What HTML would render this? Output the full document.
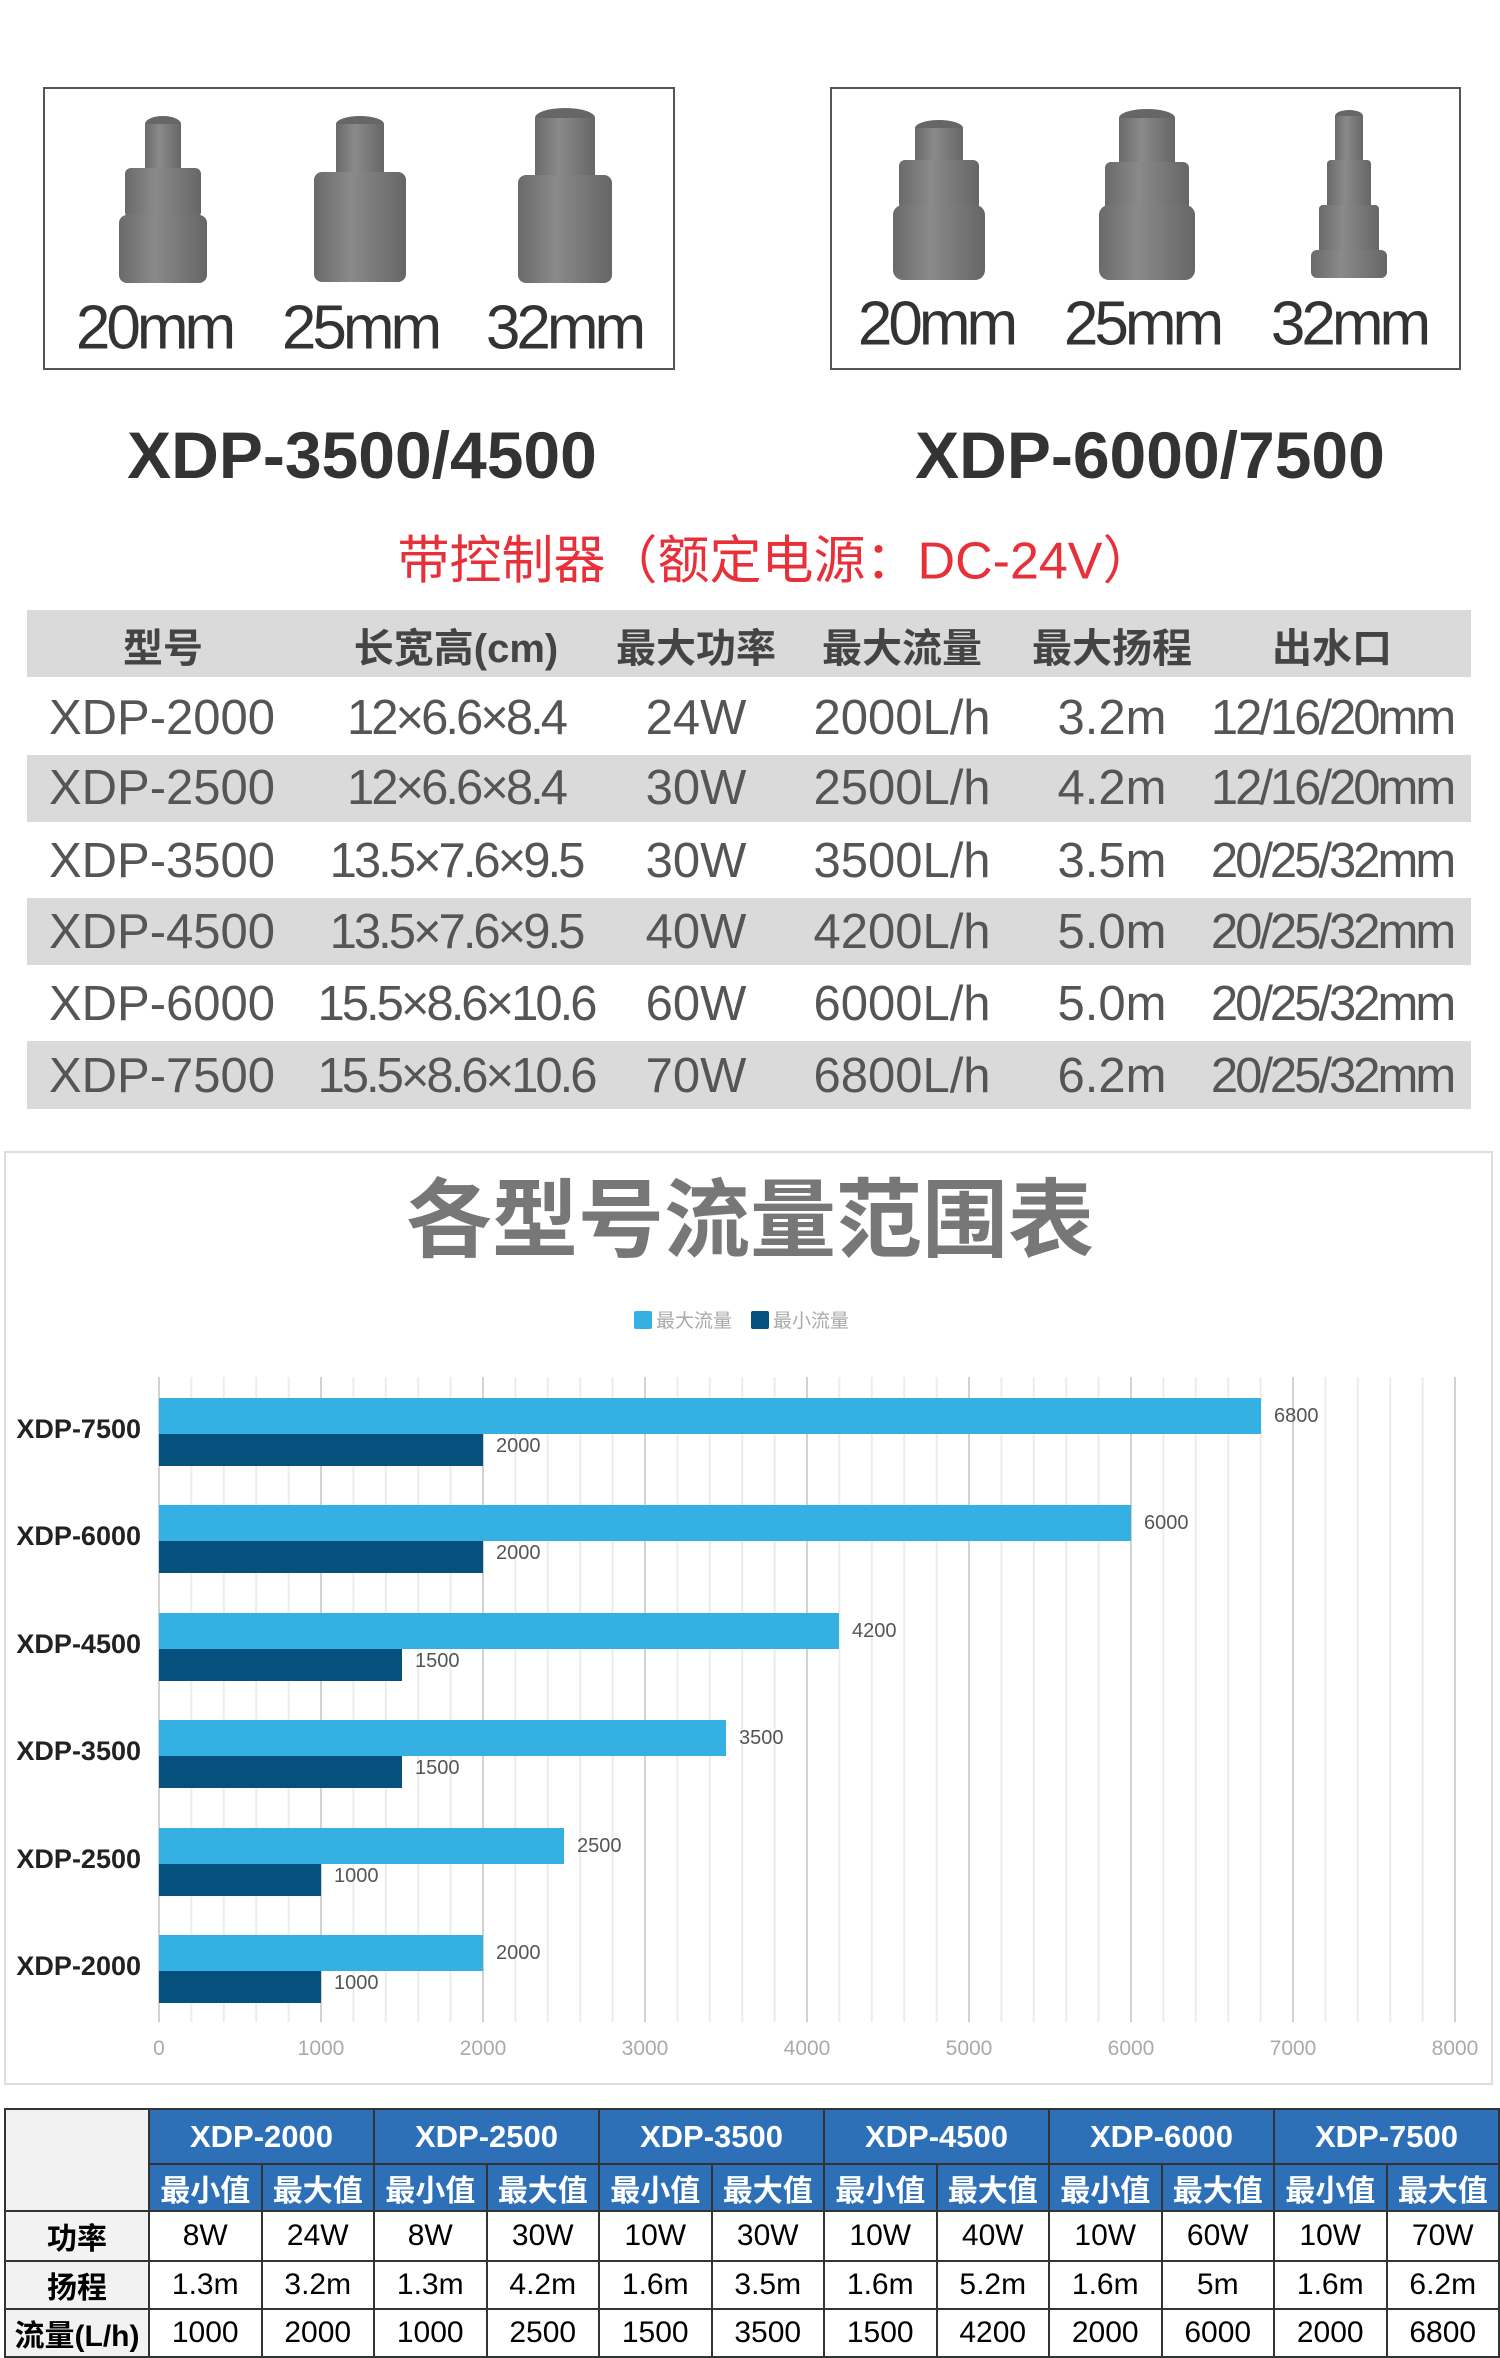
<!DOCTYPE html>
<html><head><meta charset="utf-8"><style>
*{margin:0;padding:0;box-sizing:border-box}
body{width:1500px;height:2322px;background:#fff;position:relative;overflow:hidden;font-family:"Liberation Sans","Noto Sans CJK SC",sans-serif}
.a{position:absolute;white-space:nowrap}
.c{transform:translate(-50%,-50%)}
.box{position:absolute;border:2px solid #555}
.lbl{font-size:62px;color:#333;letter-spacing:-4px}
.t{font-size:49px;color:#555}
.h{font-size:40px;font-weight:bold;color:#444}
.g{position:absolute;left:27px;width:1444px;background:#dadada}
table{position:absolute;left:4px;top:2108px;border-collapse:collapse;table-layout:fixed}
td{border:2px solid #333;text-align:center;font-size:30px;overflow:hidden;white-space:nowrap}
.b{background:#2e70b8;color:#fff;font-weight:bold}
</style></head><body>
<div class="box" style="left:43px;top:87px;width:632px;height:283px"></div>
<div class="box" style="left:830px;top:87px;width:631px;height:283px"></div>
<svg class="a" style="left:0;top:0" width="1500" height="300">
<defs><linearGradient id="cg" x1="0" x2="1"><stop offset="0" stop-color="#6a6a6a"/><stop offset=".4" stop-color="#8a8a8a"/><stop offset="1" stop-color="#666"/></linearGradient></defs>
<g fill="url(#cg)">
<g transform="translate(163,0)"><ellipse cx="0" cy="124" rx="18" ry="8" fill="#666"/><rect x="-18" y="124" width="36" height="50"/><rect x="-38" y="168" width="76" height="50" rx="6"/><rect x="-44" y="215" width="88" height="68" rx="8"/></g>
<g transform="translate(360,0)"><ellipse cx="0" cy="124" rx="24" ry="8" fill="#666"/><rect x="-24" y="124" width="48" height="50"/><rect x="-46" y="172" width="92" height="110" rx="8"/></g>
<g transform="translate(565,0)"><ellipse cx="0" cy="118" rx="30" ry="10" fill="#666"/><rect x="-30" y="118" width="60" height="62"/><rect x="-47" y="175" width="94" height="108" rx="8"/></g>
<g transform="translate(939,0)"><ellipse cx="0" cy="128" rx="24" ry="8" fill="#666"/><rect x="-24" y="128" width="48" height="40"/><rect x="-40" y="160" width="80" height="50" rx="6"/><rect x="-46" y="205" width="92" height="75" rx="10"/></g>
<g transform="translate(1147,0)"><ellipse cx="0" cy="118" rx="28" ry="9" fill="#666"/><rect x="-28" y="118" width="56" height="50"/><rect x="-42" y="162" width="84" height="50" rx="6"/><rect x="-48" y="205" width="96" height="75" rx="10"/></g>
<g transform="translate(1349,0)"><ellipse cx="0" cy="116" rx="14" ry="6" fill="#666"/><rect x="-14" y="116" width="28" height="50"/><rect x="-22" y="160" width="44" height="50" rx="4"/><rect x="-30" y="205" width="60" height="50" rx="4"/><rect x="-38" y="250" width="76" height="28" rx="6"/></g>
</g></svg>
<div class="a c lbl" style="left:154px;top:328px">20mm</div>
<div class="a c lbl" style="left:360px;top:328px">25mm</div>
<div class="a c lbl" style="left:564px;top:328px">32mm</div>
<div class="a c lbl" style="left:936px;top:324px">20mm</div>
<div class="a c lbl" style="left:1142px;top:324px">25mm</div>
<div class="a c lbl" style="left:1349px;top:324px">32mm</div>
<div class="a c" style="left:362px;top:455px;font-size:66px;font-weight:bold;color:#333">XDP-3500/4500</div>
<div class="a c" style="left:1150px;top:455px;font-size:66px;font-weight:bold;color:#333">XDP-6000/7500</div>
<div class="a c" style="left:776px;top:556px;font-size:52px;color:#e8303a">带控制器（额定电源：DC-24V）</div>
<div class="g" style="top:610px;height:67px"></div>
<div class="g" style="top:755px;height:67px"></div>
<div class="g" style="top:898px;height:67px"></div>
<div class="g" style="top:1041px;height:68px"></div>
<div class="a c h" style="left:163px;top:645px">型号</div>
<div class="a c h" style="left:456px;top:645px">长宽高(cm)</div>
<div class="a c h" style="left:696px;top:645px">最大功率</div>
<div class="a c h" style="left:902px;top:645px">最大流量</div>
<div class="a c h" style="left:1112px;top:645px">最大扬程</div>
<div class="a c h" style="left:1332px;top:645px">出水口</div>
<div class="a c t" style="left:162px;top:718px">XDP-2000</div><div class="a c t" style="left:456px;top:718px;letter-spacing:-3px">12×6.6×8.4</div><div class="a c t" style="left:696px;top:718px">24W</div><div class="a c t" style="left:902px;top:718px">2000L/h</div><div class="a c t" style="left:1112px;top:718px">3.2m</div><div class="a c t" style="left:1332px;top:718px;letter-spacing:-3px">12/16/20mm</div>
<div class="a c t" style="left:162px;top:788px">XDP-2500</div><div class="a c t" style="left:456px;top:788px;letter-spacing:-3px">12×6.6×8.4</div><div class="a c t" style="left:696px;top:788px">30W</div><div class="a c t" style="left:902px;top:788px">2500L/h</div><div class="a c t" style="left:1112px;top:788px">4.2m</div><div class="a c t" style="left:1332px;top:788px;letter-spacing:-3px">12/16/20mm</div>
<div class="a c t" style="left:162px;top:861px">XDP-3500</div><div class="a c t" style="left:456px;top:861px;letter-spacing:-3px">13.5×7.6×9.5</div><div class="a c t" style="left:696px;top:861px">30W</div><div class="a c t" style="left:902px;top:861px">3500L/h</div><div class="a c t" style="left:1112px;top:861px">3.5m</div><div class="a c t" style="left:1332px;top:861px;letter-spacing:-3px">20/25/32mm</div>
<div class="a c t" style="left:162px;top:932px">XDP-4500</div><div class="a c t" style="left:456px;top:932px;letter-spacing:-3px">13.5×7.6×9.5</div><div class="a c t" style="left:696px;top:932px">40W</div><div class="a c t" style="left:902px;top:932px">4200L/h</div><div class="a c t" style="left:1112px;top:932px">5.0m</div><div class="a c t" style="left:1332px;top:932px;letter-spacing:-3px">20/25/32mm</div>
<div class="a c t" style="left:162px;top:1004px">XDP-6000</div><div class="a c t" style="left:456px;top:1004px;letter-spacing:-3px">15.5×8.6×10.6</div><div class="a c t" style="left:696px;top:1004px">60W</div><div class="a c t" style="left:902px;top:1004px">6000L/h</div><div class="a c t" style="left:1112px;top:1004px">5.0m</div><div class="a c t" style="left:1332px;top:1004px;letter-spacing:-3px">20/25/32mm</div>
<div class="a c t" style="left:162px;top:1076px">XDP-7500</div><div class="a c t" style="left:456px;top:1076px;letter-spacing:-3px">15.5×8.6×10.6</div><div class="a c t" style="left:696px;top:1076px">70W</div><div class="a c t" style="left:902px;top:1076px">6800L/h</div><div class="a c t" style="left:1112px;top:1076px">6.2m</div><div class="a c t" style="left:1332px;top:1076px;letter-spacing:-3px">20/25/32mm</div>

<svg class="a" style="left:0;top:1150px" width="1500" height="940" font-family="Liberation Sans, Noto Sans CJK SC, sans-serif">
<rect x="5" y="2" width="1487" height="932" fill="none" stroke="#ddd" stroke-width="2"/>
<text x="750" y="100" text-anchor="middle" font-size="86" fill="#777" font-weight="bold">各型号流量范围表</text>
<rect x="634" y="161" width="18" height="18" fill="#35b0e2" rx="2"/><text x="656" y="177" font-size="19" fill="#aaa">最大流量</text>
<rect x="751" y="161" width="18" height="18" fill="#06507e" rx="2"/><text x="773" y="177" font-size="19" fill="#aaa">最小流量</text>
<g stroke="#ececec" stroke-width="2">
<line x1="191.4" y1="227" x2="191.4" y2="872"/><line x1="223.8" y1="227" x2="223.8" y2="872"/><line x1="256.2" y1="227" x2="256.2" y2="872"/><line x1="288.6" y1="227" x2="288.6" y2="872"/>
<line x1="353.4" y1="227" x2="353.4" y2="872"/><line x1="385.8" y1="227" x2="385.8" y2="872"/><line x1="418.2" y1="227" x2="418.2" y2="872"/><line x1="450.6" y1="227" x2="450.6" y2="872"/>
<line x1="515.4" y1="227" x2="515.4" y2="872"/><line x1="547.8" y1="227" x2="547.8" y2="872"/><line x1="580.2" y1="227" x2="580.2" y2="872"/><line x1="612.6" y1="227" x2="612.6" y2="872"/>
<line x1="677.4" y1="227" x2="677.4" y2="872"/><line x1="709.8" y1="227" x2="709.8" y2="872"/><line x1="742.2" y1="227" x2="742.2" y2="872"/><line x1="774.6" y1="227" x2="774.6" y2="872"/>
<line x1="839.4" y1="227" x2="839.4" y2="872"/><line x1="871.8" y1="227" x2="871.8" y2="872"/><line x1="904.2" y1="227" x2="904.2" y2="872"/><line x1="936.6" y1="227" x2="936.6" y2="872"/>
<line x1="1001.4" y1="227" x2="1001.4" y2="872"/><line x1="1033.8" y1="227" x2="1033.8" y2="872"/><line x1="1066.2" y1="227" x2="1066.2" y2="872"/><line x1="1098.6" y1="227" x2="1098.6" y2="872"/>
<line x1="1163.4" y1="227" x2="1163.4" y2="872"/><line x1="1195.8" y1="227" x2="1195.8" y2="872"/><line x1="1228.2" y1="227" x2="1228.2" y2="872"/><line x1="1260.6" y1="227" x2="1260.6" y2="872"/>
<line x1="1325.4" y1="227" x2="1325.4" y2="872"/><line x1="1357.8" y1="227" x2="1357.8" y2="872"/><line x1="1390.2" y1="227" x2="1390.2" y2="872"/><line x1="1422.6" y1="227" x2="1422.6" y2="872"/>
</g>
<g stroke="#d2d2d2" stroke-width="2">
<line x1="159" y1="227" x2="159" y2="872"/><line x1="321" y1="227" x2="321" y2="872"/><line x1="483" y1="227" x2="483" y2="872"/><line x1="645" y1="227" x2="645" y2="872"/><line x1="807" y1="227" x2="807" y2="872"/><line x1="969" y1="227" x2="969" y2="872"/><line x1="1131" y1="227" x2="1131" y2="872"/><line x1="1293" y1="227" x2="1293" y2="872"/><line x1="1455" y1="227" x2="1455" y2="872"/>
</g>
<g font-size="21" fill="#aaa" text-anchor="middle">
<text x="159" y="905">0</text><text x="321" y="905">1000</text><text x="483" y="905">2000</text><text x="645" y="905">3000</text><text x="807" y="905">4000</text><text x="969" y="905">5000</text><text x="1131" y="905">6000</text><text x="1293" y="905">7000</text><text x="1455" y="905">8000</text>
</g>
<g font-size="27" font-weight="bold" fill="#222" text-anchor="end">
<text x="141" y="288">XDP-7500</text><text x="141" y="395">XDP-6000</text><text x="141" y="503">XDP-4500</text><text x="141" y="610">XDP-3500</text><text x="141" y="718">XDP-2500</text><text x="141" y="825">XDP-2000</text>
</g>
<g fill="#35b0e2">
<rect x="159" y="248" width="1102" height="36"/><rect x="159" y="355" width="972" height="36"/><rect x="159" y="463" width="680" height="36"/><rect x="159" y="570" width="567" height="36"/><rect x="159" y="678" width="405" height="36"/><rect x="159" y="785" width="324" height="36"/>
</g>
<g fill="#06507e">
<rect x="159" y="284" width="324" height="32"/><rect x="159" y="391" width="324" height="32"/><rect x="159" y="499" width="243" height="32"/><rect x="159" y="606" width="243" height="32"/><rect x="159" y="714" width="162" height="32"/><rect x="159" y="821" width="162" height="32"/>
</g>
<g font-size="20" fill="#555">
<text x="1274" y="272">6800</text><text x="496" y="302">2000</text>
<text x="1144" y="379">6000</text><text x="496" y="409">2000</text>
<text x="852" y="487">4200</text><text x="415" y="517">1500</text>
<text x="739" y="594">3500</text><text x="415" y="624">1500</text>
<text x="577" y="702">2500</text><text x="334" y="732">1000</text>
<text x="496" y="809">2000</text><text x="334" y="839">1000</text>
</g>
</svg>

<table>
<colgroup><col style="width:144px"><col span="12" style="width:112.5px"></colgroup>
<tr style="height:55px"><td rowspan="2" style="background:#f2f2f2"></td><td colspan="2" class="b" style="font-size:31px">XDP-2000</td><td colspan="2" class="b" style="font-size:31px">XDP-2500</td><td colspan="2" class="b" style="font-size:31px">XDP-3500</td><td colspan="2" class="b" style="font-size:31px">XDP-4500</td><td colspan="2" class="b" style="font-size:31px">XDP-6000</td><td colspan="2" class="b" style="font-size:31px">XDP-7500</td></tr>
<tr style="height:47px"><td class="b">最小值</td><td class="b">最大值</td><td class="b">最小值</td><td class="b">最大值</td><td class="b">最小值</td><td class="b">最大值</td><td class="b">最小值</td><td class="b">最大值</td><td class="b">最小值</td><td class="b">最大值</td><td class="b">最小值</td><td class="b">最大值</td></tr>
<tr style="height:50px"><td style="background:#f2f2f2;font-weight:bold">功率</td><td>8W</td><td>24W</td><td>8W</td><td>30W</td><td>10W</td><td>30W</td><td>10W</td><td>40W</td><td>10W</td><td>60W</td><td>10W</td><td>70W</td></tr>
<tr style="height:48px"><td style="background:#f2f2f2;font-weight:bold">扬程</td><td>1.3m</td><td>3.2m</td><td>1.3m</td><td>4.2m</td><td>1.6m</td><td>3.5m</td><td>1.6m</td><td>5.2m</td><td>1.6m</td><td>5m</td><td>1.6m</td><td>6.2m</td></tr>
<tr style="height:48px"><td style="background:#f2f2f2;font-weight:bold">流量(L/h)</td><td>1000</td><td>2000</td><td>1000</td><td>2500</td><td>1500</td><td>3500</td><td>1500</td><td>4200</td><td>2000</td><td>6000</td><td>2000</td><td>6800</td></tr>
</table>
</body></html>
